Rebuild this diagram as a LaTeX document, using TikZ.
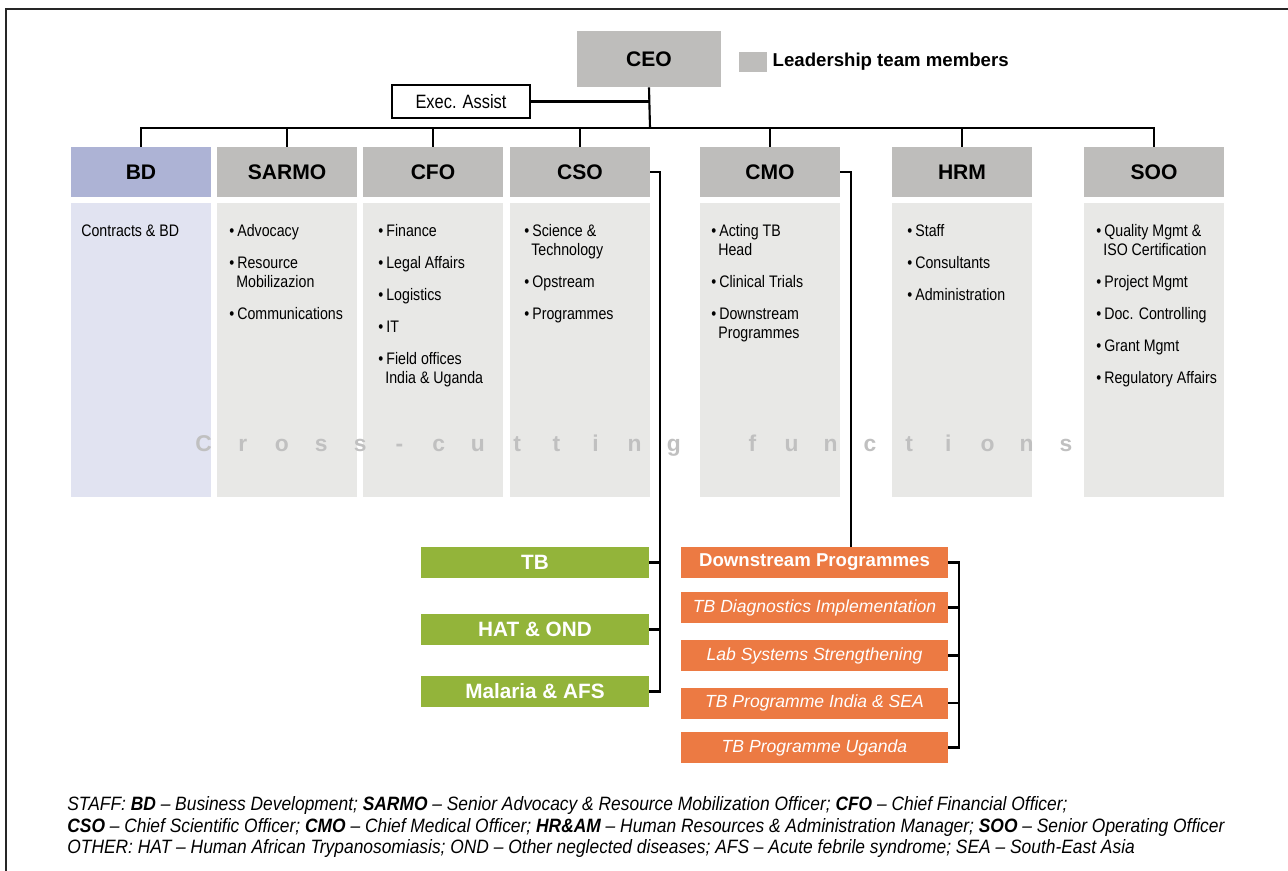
\documentclass[tikz,border=0pt]{standalone}
\usepackage{fontspec}
\setmainfont{Liberation Sans}
\newfontfamily\condfont[FakeStretch=0.85]{Liberation Sans}
\newfontfamily\notefont[FakeStretch=0.9]{Liberation Sans}
\usetikzlibrary{positioning}

\newlength{\unitpx}
\setlength{\unitpx}{0.02cm}
\newcommand*{\bul}{\makebox[8\unitpx][l]{\textbullet}}
\newcommand*{\ind}{\hspace*{7\unitpx}}
\newcommand*{\gap}{\\[13\unitpx]}

\definecolor{hdrgray}{RGB}{190,189,187}
\definecolor{bodygray}{RGB}{232,232,230}
\definecolor{bdhdr}{RGB}{173,179,213}
\definecolor{bdbody}{RGB}{225,227,241}
\definecolor{proggreen}{RGB}{147,180,58}
\definecolor{progorange}{RGB}{236,122,67}
\definecolor{crossgray}{RGB}{192,192,192}

\begin{document}
\begin{tikzpicture}
[
	x=0.02cm, y=-0.02cm,
	hdr/.style={rectangle,fill=hdrgray,minimum width=140\unitpx,minimum height=50\unitpx,inner sep=0pt,font=\fontsize{12}{14}\selectfont\bfseries},
	body/.style={rectangle,fill=bodygray,minimum width=140\unitpx,minimum height=294\unitpx,inner sep=0pt},
	items/.style={anchor=north west,inner sep=0pt,align=left,font=\condfont\fontsize{9.5}{19\unitpx}\selectfont},
	crossch/.style={anchor=base,text=crossgray,inner sep=0pt,font=\fontsize{13}{15}\selectfont\bfseries},
	prog/.style={rectangle,fill=proggreen,text=white,minimum width=228\unitpx,minimum height=31\unitpx,inner sep=0pt,font=\fontsize{11.8}{14}\selectfont\bfseries},
	unitbox/.style={rectangle,fill=progorange,text=white,minimum width=267\unitpx,minimum height=31\unitpx,inner sep=0pt,font=\fontsize{10}{12}\selectfont\itshape},
	note/.style={anchor=west,inner sep=0pt,font=\notefont\fontsize{11}{13}\selectfont\itshape},
	link/.style={line width=1.2pt}
]
	\useasboundingbox (0,0) rectangle (1288,871);

	% frame
	\draw[line width=0.9pt,black!85] (6,871) -- (6,9) -- (1288,9);

	% top
	\node[hdr,minimum width=144\unitpx,minimum height=56\unitpx] (ceo) at (649,59) {CEO};
	\node[rectangle,fill=hdrgray,minimum width=28\unitpx,minimum height=20\unitpx,inner sep=0pt] (legend) at (753,62) {};
	\node[right=0.1cm of legend,inner sep=0pt,font=\fontsize{10.6}{12}\selectfont\bfseries] (legendtxt) {Leadership team members};
	\node[draw,line width=0.6pt,fill=white,minimum width=138\unitpx,minimum height=33\unitpx,inner sep=0pt,font=\condfont\fontsize{11}{13}\selectfont] (exec) at (461,101.5) {Exec. Assist};

	% headers
	\node[hdr,fill=bdhdr] (bd) at (141,172) {BD};
	\node[hdr] (sarmo) at (287,172) {SARMO};
	\node[hdr] (cfo) at (433,172) {CFO};
	\node[hdr] (cso) at (580,172) {CSO};
	\node[hdr] (cmo) at (770,172) {CMO};
	\node[hdr] (hrm) at (962,172) {HRM};
	\node[hdr] (soo) at (1154,172) {SOO};

	% bodies
	\node[body,fill=bdbody,below=5\unitpx of bd] (bdbody) {};
	\foreach \n in {sarmo,cfo,cso,cmo,hrm,soo} {
		\node[body,below=5\unitpx of \n] (\n body) {};
	}

	% functions
	\node[items] (bditems) at (81,224) {Contracts \& BD};
	\node[items] (sarmoitems) at (229,224) {\bul Advocacy\gap\bul Resource\\\ind Mobilizazion\gap\bul Communications};
	\node[items] (cfoitems) at (378,224) {\bul Finance\gap\bul Legal Affairs\gap\bul Logistics\gap\bul IT\gap\bul Field offices\\\ind India \& Uganda};
	\node[items] (csoitems) at (524,224) {\bul Science \&\\\ind Technology\gap\bul Opstream\gap\bul Programmes};
	\node[items] (cmoitems) at (711,224) {\bul Acting TB\\\ind Head\gap\bul Clinical Trials\gap\bul Downstream\\\ind Programmes};
	\node[items] (hrmitems) at (907,224) {\bul Staff\gap\bul Consultants\gap\bul Administration};
	\node[items] (sooitems) at (1096,224) {\bul Quality Mgmt \&\\\ind ISO Certification\gap\bul Project Mgmt\gap\bul Doc. Controlling\gap\bul Grant Mgmt\gap\bul Regulatory Affairs};

	% cross-cutting label
	\foreach \ch [count=\i from 0] in {C,r,o,s,s,-,c,u,t,t,i,n,g,{},f,u,n,c,t,i,o,n,s} {
		\node[crossch] (cc\i) at (203.5+39.2*\i,451) {\ch};
	}

	% reporting lines
	\coordinate (bus) at (650,128);
	\draw[link] (ceo.south) -- (bus);
	\draw[link] (exec.east) -- (exec.east -| ceo.south);
	\draw[link] (bd.north) |- (bus) -| (soo.north);
	\foreach \n in {sarmo,cfo,cso,cmo,hrm} {
		\draw[link] (\n.north) -- (\n.north |- bus);
	}

	% programmes
	\node[prog] (tb) at (535,562.5) {TB};
	\node[prog] (hat) at (535,629.5) {HAT \& OND};
	\node[prog] (malaria) at (535,691.5) {Malaria \& AFS};
	\draw[link] (cso.east) -- ++(10,0) coordinate (csoj) |- (malaria.east);
	\foreach \n in {tb,hat} {
		\draw[link] (\n.east) -- (\n.east -| csoj);
	}

	% downstream units
	\node[unitbox,font=\fontsize{10.6}{12}\selectfont\bfseries] (down) at (814.5,562.5) {Downstream Programmes};
	\node[unitbox] (diag) at (814.5,607.5) {TB Diagnostics Implementation};
	\node[unitbox] (lab) at (814.5,655.5) {Lab Systems Strengthening};
	\node[unitbox] (india) at (814.5,703) {TB Programme India \& SEA};
	\node[unitbox] (uganda) at (814.5,747.5) {TB Programme Uganda};
	\draw[link] (cmo.east) -- ++(11,0) coordinate (cmoj) -- (cmoj |- down.north);
	\draw[link] (down.east) -- ++(11,0) coordinate (unitj) |- (uganda.east);
	\foreach \n in {diag,lab,india} {
		\draw[link] (\n.east) -- (\n.east -| unitj);
	}

	% abbreviations
	\node[note] (note1) at (67,805) {STAFF: \textbf{BD} – Business Development; \textbf{SARMO} – Senior Advocacy \& Resource Mobilization Officer; \textbf{CFO} – Chief Financial Officer;};
	\node[note] (note2) at (67,827) {\textbf{CSO} – Chief Scientific Officer; \textbf{CMO} – Chief Medical Officer; \textbf{HR\&AM} – Human Resources \& Administration Manager; \textbf{SOO} – Senior Operating Officer};
	\node[note] (note3) at (67,848) {OTHER: HAT – Human African Trypanosomiasis; OND – Other neglected diseases; AFS – Acute febrile syndrome; SEA – South-East Asia};

\end{tikzpicture}
\end{document}
